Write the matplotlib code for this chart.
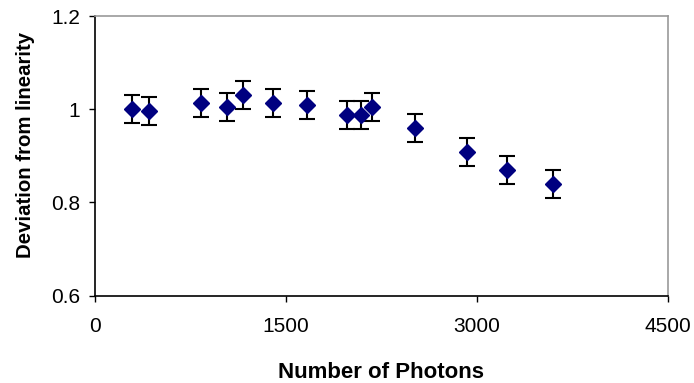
import matplotlib
matplotlib.use("Agg")
import matplotlib.pyplot as plt

plt.rcParams['font.family'] = ['Liberation Sans', 'DejaVu Sans']

# data
photons = [288, 424, 833, 1038, 1163, 1397, 1666, 1981, 2091, 2175, 2518, 2924, 3241, 3602]
deviation = [1.000, 0.996, 1.013, 1.004, 1.031, 1.013, 1.009, 0.987, 0.987, 1.004, 0.960, 0.909, 0.870, 0.840]
err = [0.03] * len(photons)
xticks = [0, 1500, 3000, 4500]
yticks = [0.6, 0.8, 1.0, 1.2]
ytick_labels = ["0.6", "0.8", "1", "1.2"]

fig = plt.figure(figsize=(6.94, 3.83), dpi=100)
ax = fig.add_axes([95/694, 1-295.5/383, 572.5/694, 279.5/383])

ax.errorbar(photons, deviation, yerr=err, fmt='D', color='#000080',
            markersize=8.5, ecolor='black', elinewidth=1.5, capsize=5.5,
            capthick=1.5, zorder=3)

ax.set_xlim(0, 4500)
ax.set_ylim(0.6, 1.2)
ax.set_xticks(xticks)
ax.set_yticks(yticks)
ax.set_yticklabels(ytick_labels)
ax.tick_params(direction='out', length=4.5, width=1, labelsize=15)
ax.tick_params(axis='x', pad=11)
ax.tick_params(axis='y', pad=6)

ax.spines['top'].set_color('#999999')
ax.spines['right'].set_color('#999999')
for s in ax.spines.values():
    s.set_linewidth(1.2)

ax.set_xlabel("Number of Photons", fontsize=16, fontweight='bold', labelpad=19)
ax.set_ylabel("Deviation from linearity", fontsize=14.7, fontweight='bold')
ax.yaxis.set_label_coords(-0.104, 0.538)

fig.savefig("out.png", dpi=100)
